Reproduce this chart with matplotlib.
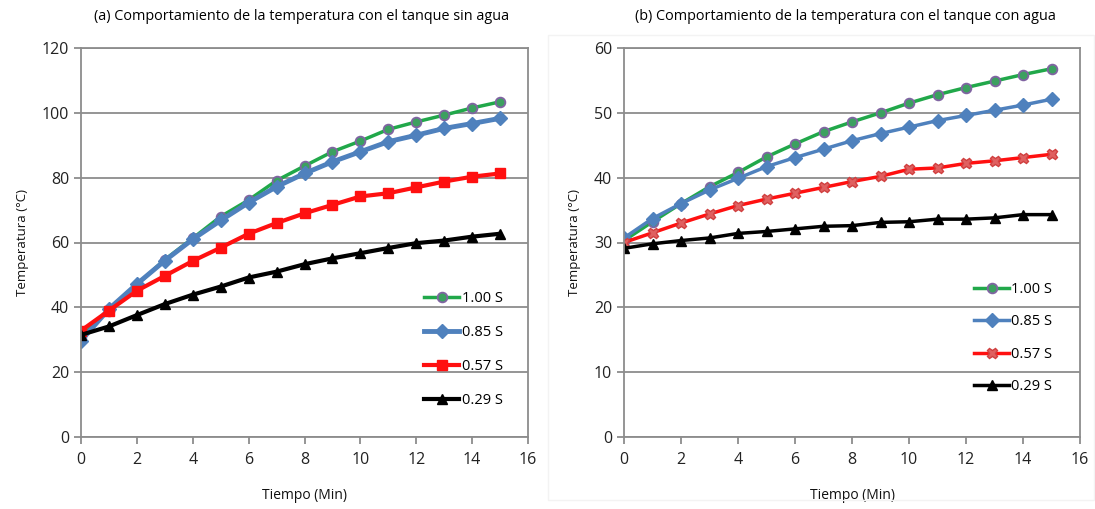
import matplotlib
matplotlib.use("Agg")
import matplotlib.pyplot as plt
from matplotlib.patches import Rectangle

plt.rcParams['font.family'] = ['Open Sans', 'DejaVu Sans']

tiempo = list(range(16))
labels = ["1.00 S", "0.85 S", "0.57 S", "0.29 S"]

# (a) tanque sin agua
a_100 = [31.0, 39.0, 47.0, 54.7, 61.3, 68.0, 73.1, 79.1, 83.6, 88.0, 91.3, 94.9, 97.2, 99.3, 101.5, 103.4]
a_085 = [29.7, 39.5, 47.2, 54.4, 61.0, 66.8, 72.3, 77.2, 81.3, 84.9, 88.0, 91.1, 93.1, 95.2, 96.7, 98.3]
a_057 = [32.8, 39.0, 45.1, 49.7, 54.3, 58.4, 62.7, 66.0, 69.0, 71.6, 74.2, 75.2, 77.0, 78.8, 80.3, 81.3]
a_029 = [31.5, 34.1, 37.6, 41.0, 43.9, 46.4, 49.2, 51.0, 53.3, 55.1, 56.7, 58.3, 59.8, 60.6, 61.8, 62.7]

# (b) tanque con agua
b_100 = [30.3, 33.2, 36.0, 38.6, 40.8, 43.2, 45.2, 47.1, 48.6, 50.0, 51.5, 52.8, 53.9, 54.9, 55.9, 56.8]
b_085 = [30.7, 33.7, 36.0, 38.1, 39.9, 41.7, 43.1, 44.4, 45.7, 46.8, 47.8, 48.8, 49.6, 50.4, 51.2, 52.1]
b_057 = [30.0, 31.5, 33.0, 34.4, 35.7, 36.7, 37.6, 38.5, 39.4, 40.2, 41.3, 41.5, 42.2, 42.6, 43.1, 43.6]
b_029 = [29.1, 29.8, 30.3, 30.7, 31.4, 31.7, 32.1, 32.5, 32.6, 33.1, 33.2, 33.6, 33.6, 33.8, 34.3, 34.3]

titles = ["(a) Comportamiento de la temperatura con el tanque sin agua",
          "(b) Comportamiento de la temperatura con el tanque con agua"]

fig = plt.figure(figsize=(10.95, 5.09), dpi=100)
fig.patch.set_facecolor('white')

# faint frame around right chart
fig.add_artist(Rectangle((548/1095, 9/509), 546/1095, 465/509, transform=fig.transFigure,
                         fill=False, edgecolor='#f3f3f3', linewidth=1))

axA = fig.add_axes([81/1095, 72/509, 447/1095, 389/509])
axB = fig.add_axes([624/1095, 72/509, 456/1095, 389/509])

green = '#21A84A'
blue = '#4F81BD'
red = '#FF1010'

def style(ax, ymax, ystep):
    ax.set_xlim(0, 16)
    ax.set_ylim(0, ymax)
    ax.set_xticks(range(0, 17, 2))
    ax.set_yticks(range(0, ymax + 1, ystep))
    ax.grid(axis='y', color='#8c8c8c', linewidth=1.3)
    ax.set_axisbelow(True)
    for s in ax.spines.values():
        s.set_color('#8c8c8c')
        s.set_linewidth(1.3)
    ax.tick_params(axis='both', colors='#8c8c8c', labelcolor='#222222',
                   labelsize=11.5, length=5, width=1.3, direction='out')
    ax.tick_params(axis='x', pad=6)
    ax.set_xlabel("Tiempo (Min)", fontsize=10, labelpad=14, color='#111111')
    ax.set_ylabel("Temperatura (°C)", fontsize=9.5, labelpad=9, color='#111111')

# panel a
axA.plot(tiempo, a_100, color=green, lw=2.5, marker='o', ms=7, mfc='#3CA060', mec='#8064A2', mew=1.3, label=labels[0])
axA.plot(tiempo, a_085, color=blue, lw=3.5, marker='D', ms=7, mfc=blue, mec=blue, label=labels[1])
axA.plot(tiempo, a_057, color=red, lw=3, marker='s', ms=7, mfc=red, mec=red, label=labels[2])
axA.plot(tiempo, a_029, color='black', lw=3, marker='^', ms=7, mfc='black', mec='black', label=labels[3])
style(axA, 120, 20)

# panel b
axB.plot(tiempo, b_100, color=green, lw=2.5, marker='o', ms=7, mfc='#3CA060', mec='#8064A2', mew=1.3, label=labels[0])
axB.plot(tiempo, b_085, color=blue, lw=2.5, marker='D', ms=7, mfc=blue, mec=blue, label=labels[1])
axB.plot(tiempo, b_057, color=red, lw=2.5, marker='X', ms=7.5, mfc='#E06060', mec='#D04040', mew=1, label=labels[2])
axB.plot(tiempo, b_029, color='black', lw=2.5, marker='^', ms=7, mfc='black', mec='black', label=labels[3])
style(axB, 60, 10)

for ax, bb, sp in [(axA, (0.755, 0.06, 0.25, 0.36), 1.3), (axB, (0.755, 0.095, 0.25, 0.32), 1.2)]:
    leg = ax.legend(loc='lower left', bbox_to_anchor=bb, frameon=False, fontsize=10.5,
                    handlelength=2.4, handletextpad=0.15, labelspacing=sp, borderaxespad=0)

fig.text(302/1095, 1 - 16/509, titles[0], ha='center', va='center', fontsize=10.4)
fig.text(845/1095, 1 - 16/509, titles[1], ha='center', va='center', fontsize=10.4)

fig.savefig("out.png", dpi=100, facecolor='white')
